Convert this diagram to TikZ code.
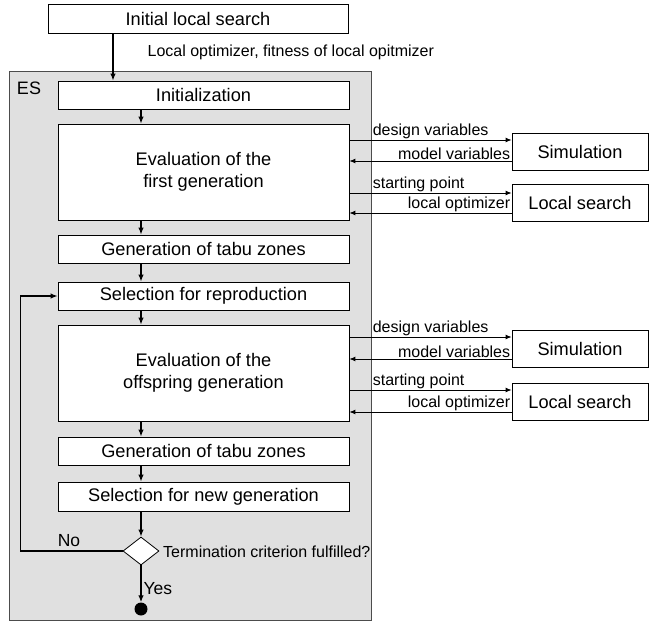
\documentclass[tikz,border=0pt]{standalone}
\usepackage{fontspec}
\setmainfont{Liberation Sans}
\usetikzlibrary{arrows.meta,shapes.geometric,calc}
\begin{document}
\begin{tikzpicture}[x=1pt,y=-1pt,
  box/.style={draw=black,line width=0.8pt,fill=white,inner sep=0pt,minimum width=291pt,minimum height=28pt,align=center,font=\fontsize{18.2}{22.5}\selectfont},
  sbox/.style={draw=black,line width=0.8pt,fill=white,inner sep=0pt,minimum width=136pt,minimum height=37pt,font=\fontsize{18.2}{22}\selectfont},
  arr/.style={line width=1.3pt,-{Latex[length=7pt,width=5.5pt]}},
  sarr/.style={line width=0.9pt,-{Latex[length=6pt,width=5pt]}},
  lbl/.style={font=\fontsize{16}{19}\selectfont,inner sep=1pt}]
\useasboundingbox (0,0) rectangle (649,624);
\node[draw=black!70,line width=0.8pt,fill=black!12,minimum width=362pt,minimum height=549pt,inner sep=0pt] (es) at (190,345.5) {};
\node[font=\fontsize{18}{22}\selectfont] (eslbl) at (29,88) {ES};
\node[box,minimum width=300pt,minimum height=29pt] (init) at (198,18.5) {Initial local search};
\node[box] (ini) at (203.5,95) {Initialization};
\node[box,minimum height=96pt] (ev1) at (203.5,172) {Evaluation of the\\first generation};
\node[box] (tz1) at (203.5,249) {Generation of tabu zones};
\node[box] (sr) at (203.5,296) {Selection for reproduction};
\node[box,minimum height=96pt] (ev2) at (203.5,373) {Evaluation of the\\offspring generation};
\node[box] (tz2) at (203.5,451) {Generation of tabu zones};
\node[box,minimum height=29pt] (sn) at (203.5,496.5) {Selection for new generation};
\node[draw=black,line width=0.8pt,fill=white,diamond,minimum width=36pt,minimum height=28pt,inner sep=0pt] (dia) at (141,551) {};
\node[circle,fill=black,minimum size=13pt,inner sep=0pt] (end) at (141,609) {};
\node[sbox] (sim1) at (580,151.5) {Simulation};
\node[sbox] (ls1) at (580,203) {Local search};
\node[sbox] (sim2) at (580,349) {Simulation};
\node[sbox] (ls2) at (580,402) {Local search};
% main flow
\coordinate (t1) at (113,0);
\draw[arr] (init.south -| t1) -- (ini.north -| t1) node[lbl,pos=0.4,anchor=west,xshift=33pt] {Local optimizer, fitness of local opitmizer};
\coordinate (m) at (141,0);
\draw[arr] (ini.south -| m) -- (ev1.north -| m);
\draw[arr] (ev1.south -| m) -- (tz1.north -| m);
\draw[arr] (tz1.south -| m) -- (sr.north -| m);
\draw[arr] (sr.south -| m) -- (ev2.north -| m);
\draw[arr] (ev2.south -| m) -- (tz2.north -| m);
\draw[arr] (tz2.south -| m) -- (sn.north -| m);
\draw[arr] (sn.south -| m) -- (dia.north);
\draw[arr] (dia.south) -- (end.north) node[lbl,font=\fontsize{17.5}{21}\selectfont,pos=0.62,anchor=west,xshift=1pt] {Yes};
\draw[arr] (dia.west) -- ++(-102,0) |- (sr.west);
\node[font=\fontsize{17.5}{21}\selectfont] (no) at (69,541) {No};
\node[lbl,anchor=west] (term) at (162,552) {Termination criterion fulfilled?};
% side connections
\foreach \e/\s/\l/\a/\b/\da/\db in {ev1/sim1/ls1/11.5/-9.5/10/-10, ev2/sim2/ls2/12/-10/12/-10}{
  \coordinate (a) at ([yshift=\a pt]\s.west);
  \coordinate (b) at ([yshift=\b pt]\s.west);
  \coordinate (c) at ([yshift=\da pt]\l.west);
  \coordinate (d) at ([yshift=\db pt]\l.west);
  \draw[sarr] (\e.east |- a) -- (a) node[lbl,pos=0,anchor=south west,xshift=22pt] {design variables};
  \draw[sarr] (b) -- (\e.east |- b) node[lbl,pos=0,anchor=south east] {model variables};
  \draw[sarr] (\e.east |- c) -- (c) node[lbl,pos=0,anchor=south west,xshift=22pt] {starting point};
  \draw[sarr] (d) -- (\e.east |- d) node[lbl,pos=0,anchor=south east] {local optimizer};
}
\end{tikzpicture}
\end{document}
